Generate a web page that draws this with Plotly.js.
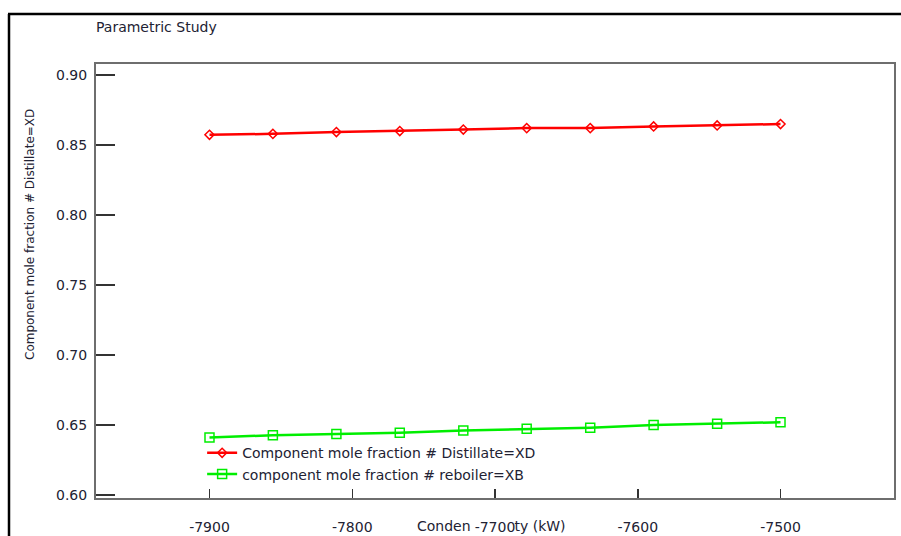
<!DOCTYPE html>
<html>
<head>
<meta charset="utf-8">
<script src="https://cdn.plot.ly/plotly-3.0.1.min.js"></script>
<style>html,body{margin:0;padding:0;background:#fff;}#chart{width:901px;height:536px;}</style>
</head>
<body>
<div id="chart"></div>
<script>
// Data
var condenserDuty = [-7900, -7855.6, -7811.1, -7766.7, -7722.2, -7677.8, -7633.3, -7588.9, -7544.4, -7500];
var distillateXD = [0.8573, 0.8580, 0.8593, 0.8600, 0.8611, 0.8621, 0.8621, 0.8633, 0.8640, 0.8650];
var reboilerXB  = [0.6412, 0.6427, 0.6436, 0.6445, 0.6462, 0.6474, 0.6481, 0.6500, 0.6510, 0.6520];
var seriesNames = ['Component mole fraction # Distillate=XD', 'component mole fraction # reboiler=XB'];
var xTicks = [-7900, -7800, -7700, -7600, -7500];
var yTicks = [0.60, 0.65, 0.70, 0.75, 0.80, 0.85, 0.90];
var chartTitle = 'Parametric Study';
var yTitle = 'Component mole fraction # Distillate=XD';
var xTitleParts = ['Conden', 'ser du', 'ty (kW)']; // "Condenser duty (kW)"; middle part is hidden behind the -7700 label in the reference

var FONT = 'DejaVu Sans, Liberation Sans, Arial, sans-serif';
var TXT = '#222233';

var traces = [
  {x: condenserDuty, y: distillateXD, name: seriesNames[0], type: 'scatter', mode: 'lines+markers',
   line: {color: '#ff0000', width: 2.5}, marker: {symbol: 'diamond-open', size: 7, color: '#ff0000', line: {width: 1.5}}},
  {x: condenserDuty, y: reboilerXB, name: seriesNames[1], type: 'scatter', mode: 'lines+markers',
   line: {color: '#00ee00', width: 2.5}, marker: {symbol: 'square-open', size: 9, color: '#00ee00', line: {width: 1.5}}}
];

var xTitleRich = xTitleParts[0] + '<span style="color:#ffffff">' + xTitleParts[1] + '</span>' + xTitleParts[2];

var layout = {
  width: 901, height: 536,
  margin: {l: 96, r: 7, t: 64, b: 38},
  paper_bgcolor: '#ffffff', plot_bgcolor: '#ffffff',
  font: {family: FONT, size: 14, color: TXT},
  title: {text: chartTitle, font: {family: FONT, size: 14, color: TXT}, xref: 'paper', x: 0, xanchor: 'left',
          yref: 'container', y: 1 - 27/536, yanchor: 'middle'},
  showlegend: true,
  legend: {x: 0.133, xanchor: 'left', y: 0.14, yanchor: 'top', bgcolor: 'rgba(0,0,0,0)',
           font: {family: FONT, size: 14, color: TXT}},
  xaxis: {range: [-7979.5, -7420.5], tickvals: xTicks, ticktext: xTicks.map(String), ticks: 'inside', ticklen: 9,
          tickwidth: 1.5, tickcolor: '#333', showgrid: false, zeroline: false, showline: true, linecolor: '#6e6e6e',
          linewidth: 2, mirror: true, ticklabelstandoff: 15, tickfont: {family: FONT, size: 14, color: TXT}},
  yaxis: {range: [0.5979, 0.9079], tickvals: yTicks, ticktext: yTicks.map(function(v){return v.toFixed(2);}),
          ticks: 'inside', ticklen: 19, tickwidth: 1.5, tickcolor: '#333', showgrid: false, zeroline: false,
          showline: true, linecolor: '#6e6e6e', linewidth: 2, mirror: true, ticklabelstandoff: 4,
          tickfont: {family: FONT, size: 14, color: TXT}},
  annotations: [
    {text: yTitle, xref: 'paper', yref: 'paper', x: (30-96)/798, y: (498-235)/434, xanchor: 'center', yanchor: 'middle',
     textangle: -90, showarrow: false, font: {family: FONT, size: 12, color: TXT}}
  ],
  shapes: [
    {type: 'rect', layer: 'below', xref: 'paper', yref: 'paper', x0: (411-96)/798, x1: (580-96)/798,
     y0: (498-535)/434, y1: (498-515)/434, line: {width: 0}, fillcolor: 'rgba(0,0,0,0)',
     label: {text: xTitleRich, textposition: 'middle left', padding: 3, font: {family: FONT, size: 14, color: TXT}}},
    {type: 'line', xref: 'paper', yref: 'paper', x0: (8-96)/798, x1: (901-96)/798, y0: (498-14)/434, y1: (498-14)/434,
     line: {color: '#000', width: 2.5}},
    {type: 'line', xref: 'paper', yref: 'paper', x0: (9-96)/798, x1: (9-96)/798, y0: (498-14)/434, y1: (498-536)/434,
     line: {color: '#000', width: 2.5}}
  ]
};

Plotly.newPlot('chart', traces, layout, {displayModeBar: false, staticPlot: true});
</script>
</body>
</html>
